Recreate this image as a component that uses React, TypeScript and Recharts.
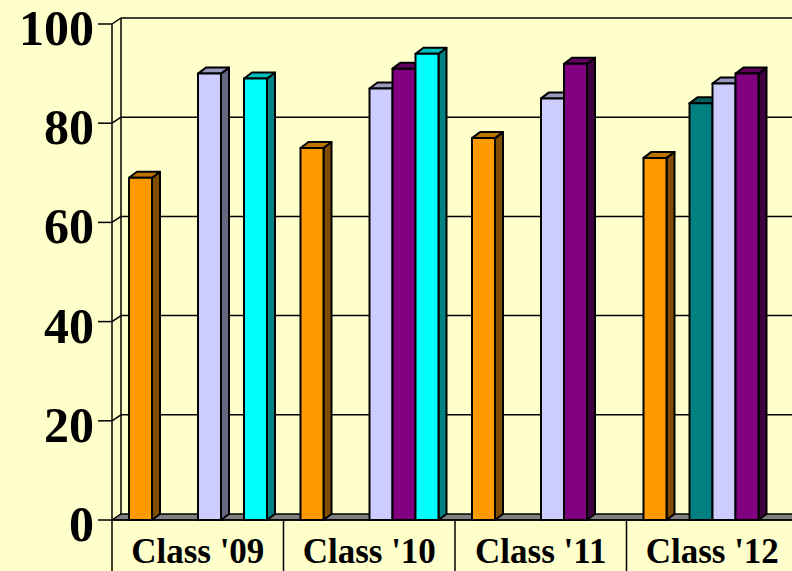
import React from "react";
import { BarChart, Bar, XAxis, YAxis, CartesianGrid } from "recharts";

// values
const categories = ["Class '09", "Class '10", "Class '11", "Class '12"];
const orangeValues = [69, 75, 77, 73];
const emptyValues = [null, null, null, null]; // slot that is never drawn
const tealValues = [null, null, null, 84];
const lavenderValues = [90, 87, 85, 88];
const purpleValues = [null, 91, 92, 90];
const cyanValues = [89, 94, null, null];
const yTicks = [0, 20, 40, 60, 80, 100];

const data = categories.map((name, i) => ({
  name,
  s1: orangeValues[i],
  s2: emptyValues[i],
  s3: tealValues[i],
  s4: lavenderValues[i],
  s5: purpleValues[i],
  s6: cyanValues[i],
}));

const SERIES = [
  { key: "s1", front: "#FF9900", top: "#C07400", side: "#7F4C00" },
  { key: "s2", front: "#993366", top: "#73264D", side: "#4C1933" },
  { key: "s3", front: "#008080", top: "#006060", side: "#004040" },
  { key: "s4", front: "#CCCCFF", top: "#9999BF", side: "#666680" },
  { key: "s5", front: "#800080", top: "#600060", side: "#400040" },
  { key: "s6", front: "#00FFFF", top: "#00BFBF", side: "#008080" },
];

const FONT = "'Liberation Serif', 'Times New Roman', serif";
const BG = "#FFFFCC";
const BAR_DX = 8;
const BAR_DY = 6;
const WALL_DX = 9;
const WALL_DY = 6;
const CHART_W = 820;
const CHART_H = 571;
const Y_AXIS_W = 112;
const MARGIN = { top: 24, right: 22, bottom: 0, left: 0 };

const makeBar3D = (colors: { front: string; top: string; side: string }) => (props: any) => {
  const { x, y, width, height } = props;
  if (height == null || height <= 0 || isNaN(height)) return null;
  const dx = BAR_DX;
  const dy = BAR_DY;
  return (
    <g stroke="#000" strokeWidth={2} strokeLinejoin="round">
      <polygon
        points={`${x + width},${y} ${x + width + dx},${y - dy} ${x + width + dx},${y + height - dy} ${x + width},${y + height}`}
        fill={colors.side}
      />
      <polygon
        points={`${x},${y} ${x + dx},${y - dy} ${x + width + dx},${y - dy} ${x + width},${y}`}
        fill={colors.top}
      />
      <rect x={x} y={y} width={width} height={height} fill={colors.front} />
    </g>
  );
};

const GridLine = (props: any) => {
  const { x1, x2, y1, x, y, height, index } = props;
  const bottom = y + height;
  const isFloor = Math.abs(y1 - bottom) < 1;
  return (
    <g key={`grid-${index}`}>
      {isFloor ? (
        <polygon
          points={`${x1},${y1} ${x2 + 40},${y1} ${x2 + 40 + WALL_DX},${y1 - WALL_DY} ${x1 + WALL_DX},${y1 - WALL_DY}`}
          fill="#808080"
          stroke="#000"
          strokeWidth={1.5}
        />
      ) : (
        <g stroke="#000" strokeWidth={1.5}>
          <line x1={x1} y1={y1} x2={x1 + WALL_DX} y2={y1 - WALL_DY} />
          <line x1={x1 + WALL_DX} y1={y1 - WALL_DY} x2={x2 + 40} y2={y1 - WALL_DY} />
        </g>
      )}
      {Math.abs(y1 - y) < 1 && (
        <line
          x1={x + WALL_DX}
          y1={y - WALL_DY}
          x2={x + WALL_DX}
          y2={bottom - WALL_DY}
          stroke="#000"
          strokeWidth={1.5}
        />
      )}
    </g>
  );
};

const plotWidth = CHART_W - MARGIN.left - MARGIN.right - Y_AXIS_W;
const bandWidth = plotWidth / categories.length;

const CategoryTick = (props: any) => {
  const { x, y, payload } = props;
  const left = x - bandWidth / 2;
  return (
    <g>
      <line x1={left} y1={y} x2={left} y2={y + 60} stroke="#000" strokeWidth={1.5} />
      <text
        x={x}
        y={y + 43}
        textAnchor="middle"
        fontFamily={FONT}
        fontWeight="bold"
        fontSize={35}
        fill="#000"
      >
        {payload.value}
      </text>
    </g>
  );
};

const ValueTick = (props: any) => {
  const { x, y, payload } = props;
  return (
    <text
      x={x}
      y={y + 21}
      textAnchor="end"
      fontFamily={FONT}
      fontWeight="bold"
      fontSize={50}
      fill="#000"
    >
      {payload.value}
    </text>
  );
};

export default function App() {
  return (
    <div
      style={{
        position: "fixed",
        left: 0,
        top: 0,
        width: 792,
        height: 571,
        overflow: "hidden",
        background: BG,
      }}
    >
      <BarChart
        width={CHART_W}
        height={CHART_H}
        data={data}
        margin={MARGIN}
        barSize={23}
        barGap={0}
      >
        <CartesianGrid vertical={false} horizontal={GridLine} />
        <XAxis
          dataKey="name"
          height={51}
          tickLine={false}
          tickSize={0}
          tickMargin={0}
          axisLine={{ stroke: "#000", strokeWidth: 1.5 }}
          tick={<CategoryTick />}
          interval={0}
        />
        <YAxis
          width={Y_AXIS_W}
          domain={[0, 100]}
          ticks={yTicks}
          interval={0}
          tickSize={14}
          tickMargin={4}
          axisLine={{ stroke: "#000", strokeWidth: 1.5 }}
          tickLine={{ stroke: "#000", strokeWidth: 1.5 }}
          tick={<ValueTick />}
        />
        {SERIES.map((s) => (
          <Bar
            key={s.key}
            dataKey={s.key}
            fill={s.front}
            isAnimationActive={false}
            shape={makeBar3D(s)}
          />
        ))}
      </BarChart>
    </div>
  );
}
